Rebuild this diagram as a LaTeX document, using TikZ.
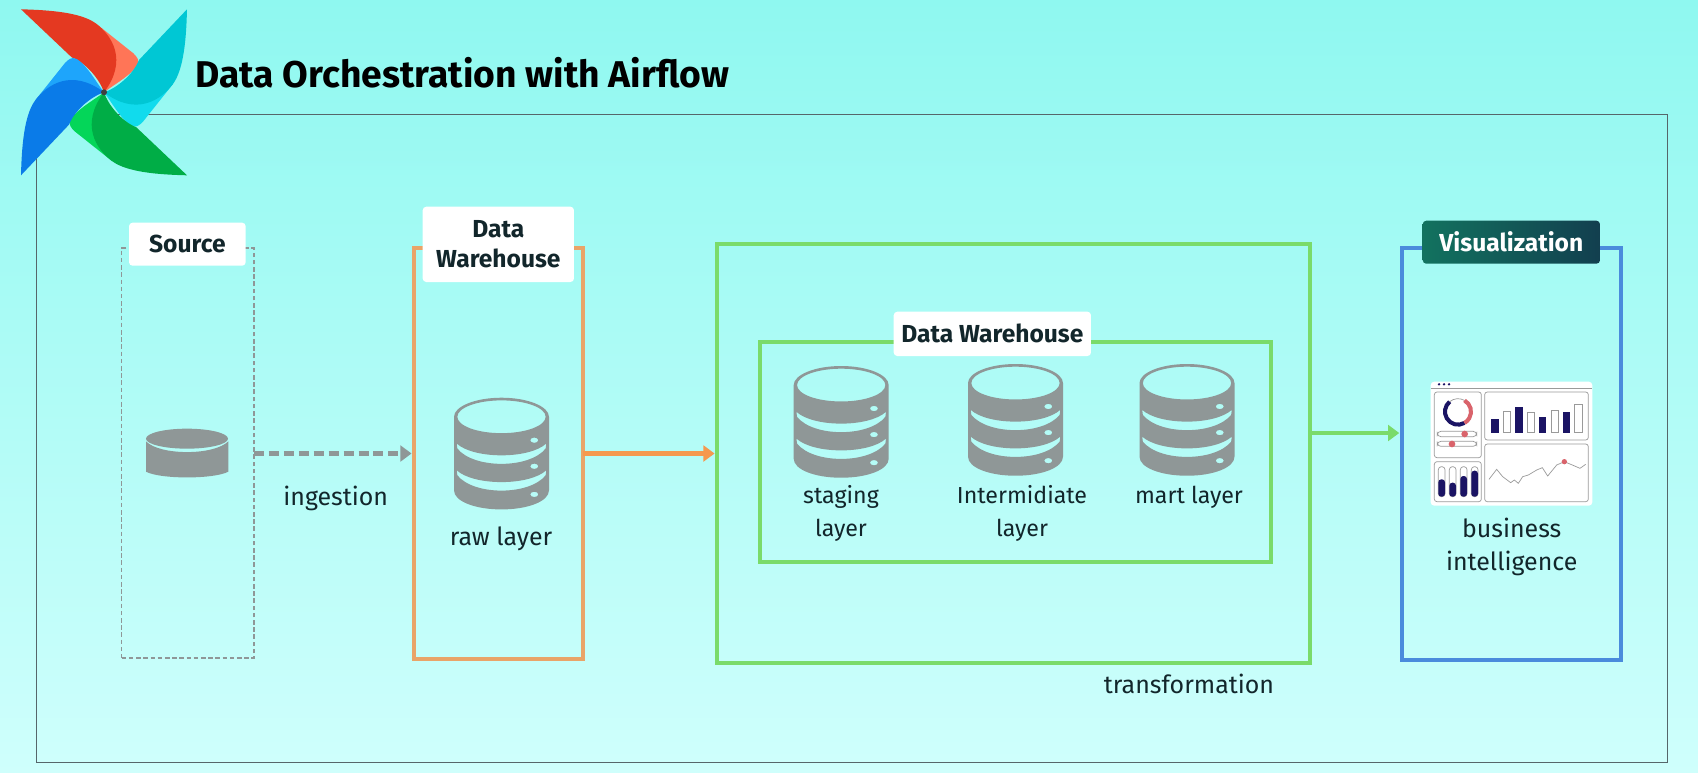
\documentclass[tikz,border=0pt]{standalone}
\usepackage{fontspec}
\setmainfont{Fira Sans}
\usetikzlibrary{arrows.meta,calc}
\definecolor{bgtop}{HTML}{8FF8F0}
\definecolor{bgbot}{HTML}{CFFFFC}
\definecolor{frameline}{HTML}{56666A}
\definecolor{dbgray}{HTML}{8F9797}
\definecolor{orangebox}{HTML}{E9A468}
\definecolor{orangearrow}{HTML}{F5994F}
\definecolor{greenbox}{HTML}{7ADB6A}
\definecolor{bluebox}{HTML}{4A8BDC}
\definecolor{inktext}{HTML}{12262B}
\definecolor{navy}{HTML}{1B1464}
\definecolor{dotred}{HTML}{D9636B}
\definecolor{panelline}{HTML}{9A9A9A}
\definecolor{vizl}{HTML}{12725F}
\definecolor{vizr}{HTML}{123F4F}
\definecolor{logored}{HTML}{E43921}
\definecolor{logosalmon}{HTML}{FF7557}
\definecolor{logocyan}{HTML}{00C7D4}
\definecolor{logolcyan}{HTML}{11DBED}
\definecolor{logogreen}{HTML}{00AD46}
\definecolor{logolgreen}{HTML}{04D659}
\definecolor{logoblue}{HTML}{0A7BE8}
\definecolor{logolblue}{HTML}{1EA5FB}
\tikzset{
  boxbase/.style={inner sep=0pt,outer sep=0pt},
  framebox/.style={boxbase,draw=frameline,line width=0.7pt},
  sourcebox/.style={boxbase,draw=dbgray,line width=0.75pt,dash pattern=on 2.6pt off 1.5pt},
  orangeframe/.style={boxbase,draw=orangebox,line width=2.3pt},
  greenframe/.style={boxbase,draw=greenbox,line width=2.3pt},
  blueframe/.style={boxbase,draw=bluebox,line width=2.3pt},
  taglabel/.style={boxbase,fill=white,rounded corners=2pt,align=center,font=\fontsize{14pt}{17.4pt}\selectfont\bfseries,text=inktext},
  viztag/.style={boxbase,rounded corners=2pt,left color=vizl,right color=vizr,align=center,font=\fontsize{14pt}{17pt}\selectfont\bfseries,text=white},
  bodytext/.style={inner sep=0pt,align=center,font=\fontsize{14.2pt}{17pt}\selectfont,text=inktext},
  smalltext/.style={inner sep=0pt,align=center,font=\fontsize{13.2pt}{17pt}\selectfont,text=inktext},
  titletext/.style={inner sep=0pt,anchor=west,font=\fontsize{21.2pt}{25pt}\selectfont\bfseries,text=black},
  panel/.style={draw=panelline,line width=0.4pt,rounded corners=1.5pt},
  flowarrow/.style={line width=2.6pt,-{Triangle[length=6.4pt,width=9pt]}},
}
\newcommand{\bx}[7]{%
  \pgfmathsetmacro{\cxx}{(#3+#5)/2}\pgfmathsetmacro{\cyy}{(#4+#6)/2}%
  \pgfmathsetmacro{\wdd}{(#5-#3)*0.56906}\pgfmathsetmacro{\htt}{(#6-#4)*0.56906}%
  \node[#1,minimum width=\wdd pt,minimum height=\htt pt] (#2) at (\cxx,\cyy) {#7};}
\newcommand{\dbicon}[3]{%
  \begin{scope}[shift={(#1,#2)},scale=#3/284]
  \fill[dbgray,even odd rule]
    (0,57) .. controls (0,26) and (64,0) .. (142,0) .. controls (220,0) and (284,26) .. (284,57)
    -- (284,277) .. controls (284,310) and (220,334) .. (142,334) .. controls (64,334) and (0,310) .. (0,277) -- cycle
    (142,57) ellipse[x radius=132,y radius=49]
    (8,137) .. controls (60,184) and (224,184) .. (276,137) -- (274,152) .. controls (225,213) and (59,213) .. (10,152) -- cycle
    (8,217) .. controls (60,264) and (224,264) .. (276,217) -- (274,232) .. controls (225,293) and (59,293) .. (10,232) -- cycle
    (240,127) ellipse[x radius=12,y radius=8]
    (240,205) ellipse[x radius=12,y radius=8]
    (240,289) ellipse[x radius=12,y radius=8];
  \end{scope}}
\newcommand{\blade}[3]{%
  \begin{scope}[rotate=#1]
  \fill[#2] (0,0) .. controls (28,-22) and (83,-52) .. (100,-82) .. controls (108,-97) and (98,-107) .. (88,-117) -- (-25,-207) -- cycle;
  \fill[#3] (-249,-249) .. controls (-165,-247) and (-70,-240) .. (-25,-207) .. controls (25,-170) and (72,-95) .. (0,0) .. controls (-12,-37) and (-52,-87) .. (-97,-105) -- cycle;
  \end{scope}}
\begin{document}
\begin{tikzpicture}[x=0.02cm,y=-0.02cm]
\useasboundingbox (0,0) rectangle (1698,772);
\shade[top color=bgtop,bottom color=bgbot] (0,0) rectangle (1698,772);
\bx{framebox}{frame}{36.7}{114.5}{1668}{762.5}{}
% logo
\begin{scope}[shift={(104,92.3)},scale=1/3]
  \blade{0}{logosalmon}{logored}
  \blade{-90}{logolcyan}{logocyan}
  \blade{-180}{logolgreen}{logogreen}
  \blade{-270}{logolblue}{logoblue}
  \fill[black!75] (0,0) circle[radius=9];
\end{scope}
\node[titletext] (title) at (195,72.6) {Data Orchestration with Airflow};
% boxes
\bx{sourcebox}{source}{121.7}{248}{254}{658}{}
\bx{orangeframe}{rawbox}{414}{248}{583}{659}{}
\bx{greenframe}{outer}{717}{244}{1310}{663}{}
\bx{greenframe}{inner}{760}{341.7}{1271}{561.7}{}
\bx{blueframe}{viz}{1401.7}{248}{1621}{660.5}{}
% tags
\bx{taglabel}{tagsource}{129}{222.7}{245.7}{265.7}{Source}
\bx{taglabel}{tagraw}{422.7}{206.7}{574}{282}{Data\\Warehouse}
\bx{taglabel}{tagdw}{893.7}{311.7}{1091}{356}{Data Warehouse}
\bx{viztag}{tagviz}{1422.7}{220.7}{1600}{263.7}{Visualization}
% source cylinder
\begin{scope}[shift={(100,200)},scale=1/3]
  \fill[dbgray] (261,716) ellipse[x radius=123,y radius=30];
  \fill[dbgray] (138,724) .. controls (180,767) and (342,767) .. (385,724) -- (385,815) .. controls (342,838) and (180,838) .. (138,815) -- cycle;
\end{scope}
\dbicon{454}{397.7}{95}
\dbicon{793.7}{366}{95}
\dbicon{968}{364}{95}
\dbicon{1139.5}{364}{95}
% texts
\node[bodytext] (ingestion) at (335.7,498) {ingestion};
\node[bodytext] (rawtext) at (501,538.5) {raw layer};
\node[smalltext] (stagingtext) at (841,513.5) {staging\\[1.6pt]layer};
\node[smalltext] (intertext) at (1022,513.5) {Intermidiate\\[1.6pt]layer};
\node[smalltext] (marttext) at (1189,497.5) {mart layer};
\node[bodytext] (transtext) at (1189,684) {transformation};
\node[bodytext] (bitext) at (1511.7,547) {business\\[1.6pt]intelligence};
% connectors
\coordinate (dstart) at (source.east |- rawbox.west);
\draw[flowarrow,draw=dbgray,dash pattern=on 5.7pt off 2.8pt,shorten >=1.4pt] (dstart) -- (rawbox.west);
\draw[flowarrow,draw=orangearrow,shorten >=1.4pt] (rawbox.east) -- (outer.west);
\coordinate (gstart) at (outer.east |- 0,433);
\coordinate (gend) at (viz.west |- 0,433);
\draw[flowarrow,draw=greenbox,shorten >=1.4pt] (gstart) -- (gend);
% dashboard
\begin{scope}[shift={(1380,200)},scale=1/3]
  \fill[white,rounded corners=2pt] (152,917) -- (152,545) -- (637,545) -- (637,917) -- cycle;
  \draw[panelline,line width=0.5pt] (152,565) -- (637,565);
  \foreach \dx in {177,192,207} \fill[navy] (\dx,553) circle[radius=4];
  \draw[panel] (163,576) rectangle (304,773);
  \draw[panel] (314,576) rectangle (625,720);
  \draw[panel] (314,732) rectangle (625,905);
  \draw[panel] (163,785) rectangle (304,905);
  \draw[panelline,line width=0.4pt] ([shift={(230:39)}]234,635) arc[start angle=230,end angle=300,radius=39];
  \draw[navy,line width=2.3pt] ([shift={(60:39)}]234,635) arc[start angle=60,end angle=230,radius=39];
  \draw[dotred,line width=2.3pt] ([shift={(-60:39)}]234,635) arc[start angle=-60,end angle=60,radius=39];
  \draw[panel,rounded corners=2pt] (172,694) rectangle (290,710);
  \draw[panel,rounded corners=2pt] (172,724) rectangle (290,739);
  \fill[dotred] (254,702) circle[radius=10];
  \fill[dotred] (216,732) circle[radius=10];
  \foreach \xa/\xb/\yt in {333/356/658,405/428/620,477/499/650,549/571/637}
    \fill[navy] (\xa,\yt) rectangle (\xb,698);
  \foreach \xa/\xb/\yt in {370/392/633,442/464/637,513/535/632,584/606/614}
    \draw[panelline,line width=0.4pt] (\xa,\yt) rectangle (\xb,698);
  \draw[panelline,line width=0.4pt] (327,838) -- (350,808) -- (368,830) -- (392,848) -- (403,840) -- (415,850) -- (428,830) -- (445,825) -- (470,810) -- (487,803) -- (503,828) -- (530,795) -- (553,785) -- (577,795) -- (600,805) -- (617,793);
  \fill[dotred] (553,785) circle[radius=8];
  \foreach \xc/\yt in {185/838,218/848,251/828,284/812} {
    \draw[panelline,line width=0.4pt,rounded corners=1.7pt] (\xc-10,800) rectangle (\xc+10,890);
    \fill[navy,rounded corners=1.7pt] (\xc-10,\yt) rectangle (\xc+10,890);
  }
\end{scope}
\end{tikzpicture}
\end{document}
